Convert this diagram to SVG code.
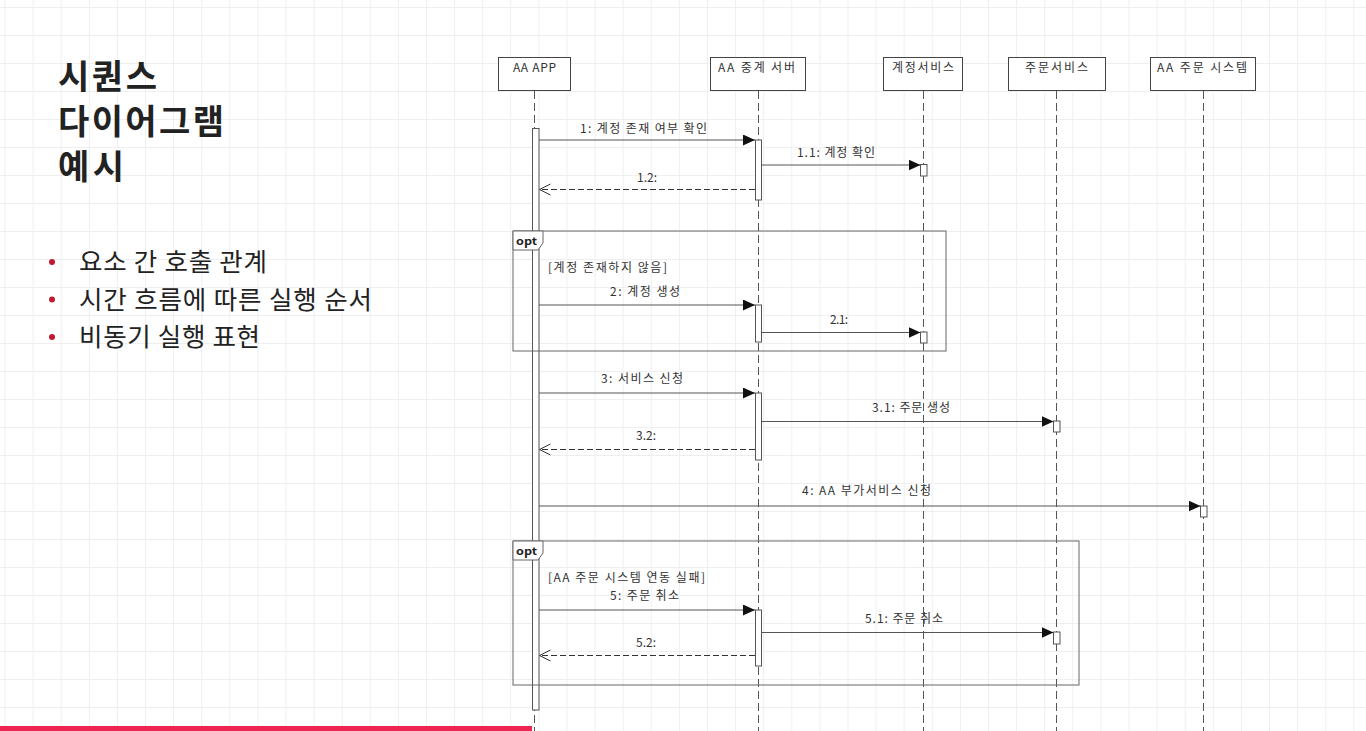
<svg xmlns="http://www.w3.org/2000/svg" width="1366" height="731" viewBox="0 0 1366 731">
<style>
.title{font-family:"Noto Sans CJK KR","Noto Sans",sans-serif;font-weight:700;font-size:34px;fill:#222}
.bul{font-family:"Noto Sans CJK KR","Noto Sans",sans-serif;font-size:25.5px;fill:#222}
.lbl{font-family:"Noto Sans CJK KR","Noto Sans",sans-serif;font-size:12px;fill:#333}
.opt{font-family:"Noto Sans CJK KR","Noto Sans",sans-serif;font-size:10.5px;font-weight:700;fill:#222}
.box{fill:#fff;stroke:#444;stroke-width:1}
.life{stroke:#555;stroke-width:1;stroke-dasharray:8 4;fill:none}
.act{fill:#fff;stroke:#555;stroke-width:1}
.msg{stroke:#555;stroke-width:1;fill:none}
.ret{stroke:#333;stroke-width:1;stroke-dasharray:6 3;fill:none}
.frame{fill:none;stroke:#666;stroke-width:1}
.tab{fill:#fff;stroke:#666;stroke-width:1}
</style>
<defs>
<pattern id="grid" patternUnits="userSpaceOnUse" x="4.5" y="7" width="28.1" height="28">
<path d="M0,0.5 H28.1 M0.5,0 V28" stroke="#efefef" stroke-width="1" fill="none"/>
</pattern>
<marker id="filled" markerUnits="userSpaceOnUse" viewBox="0 0 12 11" refX="12" refY="5.5" markerWidth="12" markerHeight="11" orient="auto">
<path d="M0,0 L12,5.5 L0,11 Z" fill="#111"/>
</marker>
<marker id="open" markerUnits="userSpaceOnUse" viewBox="-1 -1 13 13" refX="11" refY="5.5" markerWidth="13" markerHeight="13" orient="auto" overflow="visible">
<path d="M0,0 L11,5.5 L0,11" fill="none" stroke="#333" stroke-width="1"/>
</marker>
</defs>
<rect width="1366" height="731" fill="#fff"/>
<rect width="1366" height="731" fill="url(#grid)"/>

<g id="title">
<text class="title" x="58" y="89" textLength="99" lengthAdjust="spacing">시퀀스</text>
<text class="title" x="58" y="134" textLength="166" lengthAdjust="spacing">다이어그램</text>
<text class="title" x="58" y="179" textLength="66" lengthAdjust="spacing">예시</text>
</g>
<g id="bullets">
<circle cx="52" cy="262" r="3" fill="#c01a33"/>
<circle cx="52" cy="299.5" r="3" fill="#c01a33"/>
<circle cx="52" cy="337" r="3" fill="#c01a33"/>
<text class="bul" x="79" y="271" textLength="188" lengthAdjust="spacing">요소 간 호출 관계</text>
<text class="bul" x="79" y="308.5" textLength="293" lengthAdjust="spacing">시간 흐름에 따른 실행 순서</text>
<text class="bul" x="79" y="346" textLength="181" lengthAdjust="spacing">비동기 실행 표현</text>
</g>

<g id="p-app">
<rect class="box" x="498.5" y="57.5" width="72" height="33"/>
<text class="lbl" x="513" y="72" textLength="43" lengthAdjust="spacing">AA APP</text>
<line class="life" x1="534.5" y1="91" x2="534.5" y2="731"/>
<rect class="act" x="532.5" y="128.5" width="6.5" height="581.5"/>
</g>
<g id="p-relay">
<rect class="box" x="710.5" y="57.5" width="95" height="33"/>
<text class="lbl" x="718" y="72" textLength="77" lengthAdjust="spacing">AA 중계 서버</text>
<line class="life" x1="758.5" y1="91" x2="758.5" y2="731"/>
<rect class="act" x="755.5" y="140" width="6" height="60"/>
<rect class="act" x="755.5" y="305" width="6" height="37"/>
<rect class="act" x="755.5" y="393" width="6" height="67"/>
<rect class="act" x="755.5" y="610" width="6" height="56"/>
</g>
<g id="p-account">
<rect class="box" x="883.5" y="57.5" width="79" height="33"/>
<text class="lbl" x="892" y="72" textLength="62" lengthAdjust="spacing">계정서비스</text>
<line class="life" x1="923.5" y1="91" x2="923.5" y2="731"/>
<rect class="act" x="920.5" y="164.5" width="6.5" height="11.5"/>
<rect class="act" x="920.5" y="332" width="6.5" height="11"/>
</g>
<g id="p-order">
<rect class="box" x="1008.5" y="57.5" width="97" height="33"/>
<text class="lbl" x="1025" y="72" textLength="63" lengthAdjust="spacing">주문서비스</text>
<line class="life" x1="1056.5" y1="91" x2="1056.5" y2="731"/>
<rect class="act" x="1053.5" y="421" width="6.5" height="11"/>
<rect class="act" x="1053.5" y="632" width="6.5" height="12"/>
</g>
<g id="p-ordersys">
<rect class="box" x="1150.5" y="57.5" width="105" height="33"/>
<text class="lbl" x="1157" y="72" textLength="90" lengthAdjust="spacing">AA 주문 시스템</text>
<line class="life" x1="1203.5" y1="91" x2="1203.5" y2="731"/>
<rect class="act" x="1200.5" y="506" width="6.5" height="11"/>
</g>

<g id="frame-opt1">
<rect class="frame" x="513" y="231" width="433" height="120"/>
<path class="tab" d="M513,231 H543 V243 L538,250 H513 Z"/>
<text class="opt" x="516" y="245" textLength="21" lengthAdjust="spacingAndGlyphs">opt</text>
<text class="lbl" x="548" y="272" textLength="119" lengthAdjust="spacing">[계정 존재하지 않음]</text>
</g>
<g id="frame-opt2">
<rect class="frame" x="513" y="541" width="566" height="144"/>
<path class="tab" d="M513,541 H543 V553 L538,560 H513 Z"/>
<text class="opt" x="516" y="555" textLength="21" lengthAdjust="spacingAndGlyphs">opt</text>
<text class="lbl" x="548" y="582" textLength="157" lengthAdjust="spacing">[AA 주문 시스템 연동 실패]</text>
</g>

<g id="connectors">
<line class="msg" x1="539" y1="140" x2="755" y2="140" marker-end="url(#filled)"/>
<text class="lbl" x="580" y="133" textLength="127" lengthAdjust="spacing">1: 계정 존재 여부 확인</text>
<line class="msg" x1="761.5" y1="165" x2="920.5" y2="165" marker-end="url(#filled)"/>
<text class="lbl" x="797" y="157" textLength="78" lengthAdjust="spacing">1.1: 계정 확인</text>
<line class="ret" x1="755" y1="189.5" x2="539.5" y2="189.5" marker-end="url(#open)"/>
<text class="lbl" x="637" y="182" textLength="20" lengthAdjust="spacing">1.2:</text>

<line class="msg" x1="539" y1="305" x2="755" y2="305" marker-end="url(#filled)"/>
<text class="lbl" x="610" y="296" textLength="70" lengthAdjust="spacing">2: 계정 생성</text>
<line class="msg" x1="761.5" y1="332.5" x2="920.5" y2="332.5" marker-end="url(#filled)"/>
<text class="lbl" x="830" y="324" textLength="18" lengthAdjust="spacing">2.1:</text>

<line class="msg" x1="539" y1="393" x2="755" y2="393" marker-end="url(#filled)"/>
<text class="lbl" x="601" y="383" textLength="82" lengthAdjust="spacing">3: 서비스 신청</text>
<line class="msg" x1="761.5" y1="421.5" x2="1053.5" y2="421.5" marker-end="url(#filled)"/>
<text class="lbl" x="872" y="412" textLength="78" lengthAdjust="spacing">3.1: 주문 생성</text>
<line class="ret" x1="755" y1="449.5" x2="539.5" y2="449.5" marker-end="url(#open)"/>
<text class="lbl" x="636" y="440" textLength="20" lengthAdjust="spacing">3.2:</text>

<line class="msg" x1="539" y1="506" x2="1200.5" y2="506" marker-end="url(#filled)"/>
<text class="lbl" x="802" y="495" textLength="129" lengthAdjust="spacing">4: AA 부가서비스 신청</text>

<line class="msg" x1="539" y1="610" x2="755" y2="610" marker-end="url(#filled)"/>
<text class="lbl" x="610" y="600" textLength="69" lengthAdjust="spacing">5: 주문 취소</text>
<line class="msg" x1="761.5" y1="632.5" x2="1053.5" y2="632.5" marker-end="url(#filled)"/>
<text class="lbl" x="865" y="623" textLength="78" lengthAdjust="spacing">5.1: 주문 취소</text>
<line class="ret" x1="755" y1="655.5" x2="539.5" y2="655.5" marker-end="url(#open)"/>
<text class="lbl" x="636" y="647" textLength="20" lengthAdjust="spacing">5.2:</text>
</g>

<rect x="0" y="726" width="532" height="5" fill="#ee2451"/>
</svg>
